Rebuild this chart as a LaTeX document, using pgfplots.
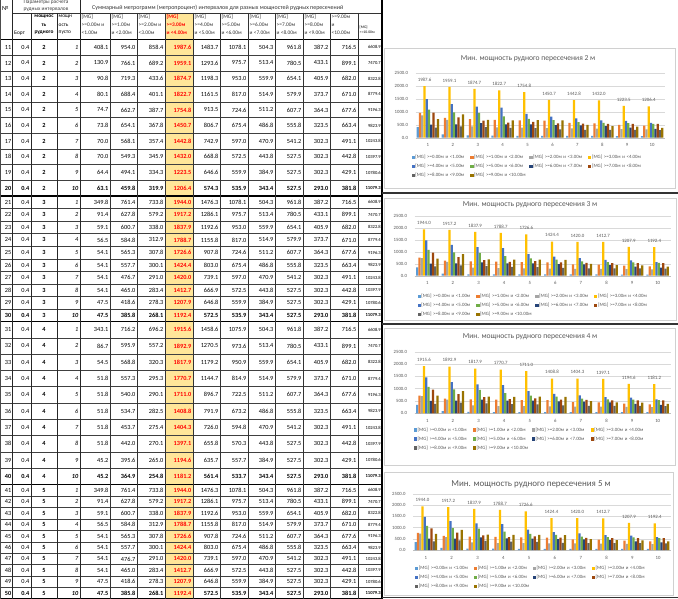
\documentclass[border=0pt]{standalone}
\usepackage{pgfplots}
\pgfplotsset{compat=1.18}
\usepackage{pgfplotstable}
\usepackage{fontspec}
\setmainfont{Carlito}

\definecolor{s0}{HTML}{5B9BD5}
\definecolor{s1}{HTML}{ED7D31}
\definecolor{s2}{HTML}{A5A5A5}
\definecolor{s3}{HTML}{FFC000}
\definecolor{s4}{HTML}{4472C4}
\definecolor{s5}{HTML}{70AD47}
\definecolor{s6}{HTML}{264478}
\definecolor{s7}{HTML}{9E480E}
\definecolor{s8}{HTML}{636363}
\definecolor{s9}{HTML}{997300}
\definecolor{hl}{HTML}{FFE699}
\definecolor{txtg}{HTML}{595959}
\definecolor{gridc}{HTML}{D9D9D9}
\definecolor{axisc}{HTML}{BFBFBF}
\definecolor{boxc}{HTML}{D0D0D0}

\pgfplotstableread{
p c0 c1 c2 c3 c4 c5 c6 c7 c8 c9 c10
1 408.1 954.0 858.4 1987.6 1483.7 1078.1 504.3 961.8 387.2 716.5 6608.9
2 130.9 766.1 689.2 1959.1 1293.6 975.7 513.4 780.5 433.1 899.1 7470.7
3 90.8 719.3 433.6 1874.7 1198.3 953.0 559.9 654.1 405.9 682.0 8322.8
4 80.1 688.4 401.1 1822.7 1161.5 817.0 514.9 579.9 373.7 671.0 8779.4
5 74.7 662.7 387.7 1754.8 913.5 724.6 511.2 607.7 364.3 677.6 9196.3
6 73.8 654.1 367.8 1450.7 806.7 675.4 486.8 555.8 323.5 663.4 9823.9
7 70.0 568.1 357.4 1442.8 742.9 597.0 470.9 541.2 302.3 491.1 10243.8
8 70.0 549.3 345.9 1432.0 668.8 572.5 443.8 527.5 302.3 442.8 10397.9
9 64.4 494.1 334.3 1223.5 646.6 559.9 384.9 527.5 302.3 429.1 10780.6
10 63.1 459.8 319.9 1206.4 574.3 535.9 343.4 527.5 293.0 381.8 11079.3
}\Ttwo
\pgfplotstableread{
p c0 c1 c2 c3 c4 c5 c6 c7 c8 c9 c10
1 349.8 761.4 733.8 1944.0 1476.3 1078.1 504.3 961.8 387.2 716.5 6608.9
2 91.4 627.8 579.2 1917.2 1286.1 975.7 513.4 780.5 433.1 899.1 7470.7
3 59.1 600.7 338.0 1837.9 1192.6 953.0 559.9 654.1 405.9 682.0 8322.8
4 56.5 584.8 312.9 1788.7 1155.8 817.0 514.9 579.9 373.7 671.0 8779.4
5 54.1 565.3 307.8 1726.6 907.8 724.6 511.2 607.7 364.3 677.6 9196.3
6 54.1 557.7 300.1 1424.4 803.0 675.4 486.8 555.8 323.5 663.4 9823.9
7 54.1 476.7 291.0 1420.0 739.1 597.0 470.9 541.2 302.3 491.1 10243.8
8 54.1 465.0 283.4 1412.7 666.9 572.5 443.8 527.5 302.3 442.8 10397.9
9 47.5 418.6 278.3 1207.9 646.8 559.9 384.9 527.5 302.3 429.1 10780.6
10 47.5 385.8 268.1 1192.4 572.5 535.9 343.4 527.5 293.0 381.8 11079.3
}\Tthree
\pgfplotstableread{
p c0 c1 c2 c3 c4 c5 c6 c7 c8 c9 c10
1 343.1 716.2 696.2 1915.6 1458.6 1075.9 504.3 961.8 387.2 716.5 6608.9
2 86.7 595.9 557.2 1892.9 1270.5 973.6 513.4 780.5 433.1 899.1 7470.7
3 54.5 568.8 320.3 1817.9 1179.2 950.9 559.9 654.1 405.9 682.0 8322.8
4 51.8 557.3 295.3 1770.7 1144.7 814.9 514.9 579.9 373.7 671.0 8779.4
5 51.8 540.0 290.1 1711.0 896.7 722.5 511.2 607.7 364.3 677.6 9196.3
6 51.8 534.7 282.5 1408.8 791.9 673.2 486.8 555.8 323.5 663.4 9823.9
7 51.8 453.7 275.4 1404.3 726.0 594.8 470.9 541.2 302.3 491.1 10243.8
8 51.8 442.0 270.1 1397.1 655.8 570.3 443.8 527.5 302.3 442.8 10397.9
9 45.2 395.6 265.0 1194.6 635.7 557.7 384.9 527.5 302.3 429.1 10780.6
10 45.2 364.9 254.8 1181.2 561.4 533.7 343.4 527.5 293.0 381.8 11079.3
}\Tfour
\pgfplotstableread{
p c0 c1 c2 c3 c4 c5 c6 c7 c8 c9 c10
1 349.8 761.4 733.8 1944.0 1476.3 1078.1 504.3 961.8 387.2 716.5 6608.9
2 91.4 627.8 579.2 1917.2 1286.1 975.7 513.4 780.5 433.1 899.1 7470.7
3 59.1 600.7 338.0 1837.9 1192.6 953.0 559.9 654.1 405.9 682.0 8322.8
4 56.5 584.8 312.9 1788.7 1155.8 817.0 514.9 579.9 373.7 671.0 8779.4
5 54.1 565.3 307.8 1726.6 907.8 724.6 511.2 607.7 364.3 677.6 9196.3
6 54.1 557.7 300.1 1424.4 803.0 675.4 486.8 555.8 323.5 663.4 9823.9
7 54.1 476.7 291.0 1420.0 739.1 597.0 470.9 541.2 302.3 491.1 10243.8
8 54.1 465.0 283.4 1412.7 666.9 572.5 443.8 527.5 302.3 442.8 10397.9
9 47.5 418.6 278.3 1207.9 646.8 559.9 384.9 527.5 302.3 429.1 10780.6
10 47.5 385.8 268.1 1192.4 572.5 535.9 343.4 527.5 293.0 381.8 11079.3
}\Tfive

\newcommand\tabf{\fontsize{6.3}{7}\selectfont}
\newcommand\hdf{\fontsize{5.4}{6}\selectfont}
\newcommand\tinyf{\fontsize{4.6}{5}\selectfont}

\newcommand\drawgroup[5]{%
  \foreach \r in {0,...,9}{%
    \pgfmathsetmacro\yc{#2+(\r+0.5)*#3}%
    \pgfmathtruncatemacro\num{#4+\r}%
    \pgfmathtruncatemacro\pp{\r+1}%
    \ifnum\r=9\relax\def\rf{\bfseries}\else\def\rf{}\fi
    \ifnum\r>0\relax\draw[line width=0.5bp,black!75] (0,#2+\r*#3) -- (382,#2+\r*#3);\fi
    \node[anchor=east] at (11.5,\yc) {\rf\num};
    \node[anchor=east] at (29.5,\yc) {\rf 0.4};
    \node at (44,\yc) {\bfseries #5};
    \node[anchor=east] at (78.5,\yc) {\rf\itshape\pp};
    \foreach \c/\xr in {c0/108.5,c1/135.5,c2/163.5,c4/218.5,c5/246.5,c6/273.5,c7/301.5,c8/328.5,c9/356.5}{%
      \edef\tmp{\noexpand\pgfplotstablegetelem{\r}{\c}\noexpand\of}\tmp{#1}%
      \node[anchor=east] at (\xr,\yc) {\rf\pgfplotsretval};
    }%
    \edef\tmp{\noexpand\pgfplotstablegetelem{\r}{c3}\noexpand\of}\tmp{#1}%
    \node[anchor=east,text=red] at (191.5,\yc) {\bfseries\pgfplotsretval};
    \edef\tmp{\noexpand\pgfplotstablegetelem{\r}{c10}\noexpand\of}\tmp{#1}%
    \node[anchor=east,font=\tinyf] at (381,\yc) {\rf\pgfplotsretval};
  }%
}

\pgfkeys{/pgf/number format/assume math mode=true}
\pgfplotsset{
  mychart/.style={
    scale only axis, ybar=0pt, bar width=2.25bp,
    ymin=0, ymax=2500, ytick={0,500,...,2500},
    xmin=0.5, xmax=10.5, xtick={1,...,10},
    axis x line*=bottom, axis y line*=left,
    x axis line style={draw=axisc,-}, y axis line style={draw=none},
    ymajorgrids, grid style={draw=gridc, line width=0.4bp},
    major tick length=0pt,
    tick label style={font=\fontsize{4.8}{5}\selectfont, text=txtg},
    yticklabel style={/pgf/number format/fixed, /pgf/number format/fixed zerofill, /pgf/number format/precision=1, /pgf/number format/1000 sep={}, /pgf/number format/assume math mode=true, xshift=-4bp},
    xticklabel style={/pgf/number format/assume math mode=true, yshift=-2.5bp},
    legend columns=4,
    legend image code/.code={\fill[##1] (0bp,-1.6bp) rectangle (3.2bp,1.6bp);},
    legend style={draw=none, fill=none, font=\fontsize{4.9}{5}\selectfont, text=txtg,
      anchor=north, legend cell align=left,
      /tikz/every even column/.append style={column sep=2.5bp},
      nodes={inner sep=0.6bp, text width=52bp, text height=3.4bp, text depth=1bp},
      /tikz/row sep=3.4bp},
    clip=false,
  }
}

\newcommand\chartplots[1]{%
  \addplot[fill=s0,draw=none] table[x=p,y=c0]{#1}; \addlegendentry{{[MG] >=0.00м и <1.00м}}
  \addplot[fill=s1,draw=none] table[x=p,y=c1]{#1}; \addlegendentry{{[MG] >=1.00м и <2.00м}}
  \addplot[fill=s2,draw=none] table[x=p,y=c2]{#1}; \addlegendentry{{[MG] >=2.00м и <3.00м}}
  \addplot[fill=s3,draw=none,nodes near coords={\pgfmathprintnumber[fixed,fixed zerofill,precision=1,1000 sep={},assume math mode=true]{\pgfplotspointmeta}},
    every node near coord/.append style={font=\fontsize{4.9}{5}\selectfont, text=txtg, inner sep=0pt, yshift=4.5bp}] table[x=p,y=c3]{#1}; \addlegendentry{{[MG] >=3.00м и <4.00м}}
  \addplot[fill=s4,draw=none] table[x=p,y=c4]{#1}; \addlegendentry{{[MG] >=4.00м и <5.00м}}
  \addplot[fill=s5,draw=none] table[x=p,y=c5]{#1}; \addlegendentry{{[MG] >=5.00м и <6.00м}}
  \addplot[fill=s6,draw=none] table[x=p,y=c6]{#1}; \addlegendentry{{[MG] >=6.00м и <7.00м}}
  \addplot[fill=s7,draw=none] table[x=p,y=c7]{#1}; \addlegendentry{{[MG] >=7.00м и <8.00м}}
  \addplot[fill=s8,draw=none] table[x=p,y=c8]{#1}; \addlegendentry{{[MG] >=8.00м и <9.00м}}
  \addplot[fill=s9,draw=none] table[x=p,y=c9]{#1}; \addlegendentry{{[MG] >=9.00м и <10.00м}}
}

\begin{document}
\begin{tikzpicture}
\begin{scope}[x=1bp,y=-1bp,every node/.style={inner sep=0pt,font=\tabf}]
\path[use as bounding box, fill=white] (0,0) rectangle (678,599);
\fill[hl] (165,13) rectangle (193,599);
% header
\node[anchor=west] at (2,8) {№};
\node[text=black!75,font=\hdf] at (46,2.5) {Параметры расчета};
\node[text=black!75,font=\hdf] at (46,9.5) {рудных интервалов};
\node[anchor=west,font=\fontsize{6}{6}\selectfont,text=black!80] at (92,8) {Суммарный метрограмм (метропроцент) интервалов для разных мощностей рудных пересечений};
\node[anchor=west,font=\hdf] at (14,33) {Борт};
\node[font=\hdf\bfseries] at (44,17) {мощнос};
\node[font=\hdf\bfseries] at (44,25) {ть};
\node[font=\hdf\bfseries] at (44,33) {рудного};
\node[anchor=west,font=\hdf] at (58.5,17) {мощн};
\node[anchor=west,font=\hdf] at (58.5,25) {ость};
\node[anchor=west,font=\hdf] at (58.5,33) {пусто};
\foreach \xl/\la/\lb/\lc in {81.5/[MG]/>=0.00м и/<1.00м, 111.5/[MG]/>=1.00м/и <2.00м, 138.5/[MG]/>=2.00м и/<3.00м,
  194.5/[MG]/>=4.00м/и <5.00м, 221.5/[MG]/>=5.00м/и <6.00м, 249.5/[MG]/>=6.00м/и <7.00м,
  276.5/[MG]/>=7.00м/и <8.00м, 304.5/[MG]/>=8.00м/и <9.00м, 331.5/>=9.00м/и/<10.00м}{
  \node[anchor=west,font=\hdf,text=black!80] at (\xl,17) {\la};
  \node[anchor=west,font=\hdf,text=black!80] at (\xl,25) {\lb};
  \node[anchor=west,font=\hdf,text=black!80] at (\xl,33) {\lc};
}
\node[anchor=west,font=\hdf\bfseries,text=red] at (166.5,17) {[MG]};
\node[anchor=west,font=\hdf\bfseries,text=red] at (166.5,25) {>=3.00м};
\node[anchor=west,font=\hdf\bfseries,text=red] at (166.5,33) {и <4.00м};
\node[anchor=west,font=\fontsize{3.8}{4}\selectfont] at (359.5,27) {[MG]};
\node[anchor=west,font=\fontsize{3.8}{4}\selectfont] at (359.5,32.5) {>=10.00м};
% data
\drawgroup{\Ttwo}{39.5}{15.65}{11}{2}
\drawgroup{\Tthree}{196}{12.55}{21}{3}
\drawgroup{\Tfour}{321.5}{16.3}{31}{4}
\drawgroup{\Tfive}{484.5}{11.45}{41}{5}
% lines
\draw[line width=0.6bp,black!80] (12,13) -- (382,13);
\draw[line width=0.8bp,black] (0,39.5) -- (382,39.5);
\foreach \yy in {196,321.5,484.5} \draw[line width=1.6bp,black] (0,\yy) -- (382,\yy);
\draw[line width=1.2bp,black] (0,598.5) -- (382,598.5);
\foreach \xx in {12,80} \draw[line width=0.8bp,black!85] (\xx,0) -- (\xx,599);
\foreach \xx in {31,57} \draw[line width=1bp,black!85] (\xx,13) -- (\xx,599);
\foreach \xx in {110,137,165,193,220,248,275,303,330,358} \draw[line width=0.7bp,black!80] (\xx,13) -- (\xx,599);
\draw[line width=1.2bp,black] (382,0) -- (382,599);
\draw[line width=0.6bp,black!70] (0.3,0) -- (0.3,599);
% chart boxes
\draw[boxc,line width=0.6bp] (384,48) rectangle (675,188);
\draw[boxc,line width=0.6bp] (384,198) rectangle (676,320);
\draw[boxc,line width=0.6bp] (384,328) rectangle (675,465);
\draw[boxc,line width=0.6bp] (384,472) rectangle (673,595);
\draw[line width=1.4bp,black!80] (382,193) -- (678,193);
\draw[line width=1.4bp,black!80] (382,324) -- (678,324);
\draw[line width=1.4bp,black!80] (382,597.5) -- (678,597.5);
\end{scope}

\node[font=\fontsize{7.6}{8}\selectfont,text=txtg] at (528bp,-59bp) {Мин. мощность рудного пересечения 2 м};
\node[font=\fontsize{7.6}{8}\selectfont,text=txtg] at (530bp,-205bp) {Мин. мощность рудного пересечения 3 м};
\node[font=\fontsize{7.6}{8}\selectfont,text=txtg] at (530bp,-337bp) {Мин. мощность рудного пересечения 4 м};
\node[font=\fontsize{9}{10}\selectfont,text=txtg] at (531bp,-484bp) {Мин. мощность рудного пересечения 5 м};

\begin{axis}[mychart, at={(415.5bp,-137.7bp)}, anchor=south west, width=249bp, height=65bp,
  legend style={at={(0.452,-0.223)}}]
\chartplots{\Ttwo}
\end{axis}
\begin{axis}[mychart, at={(414.5bp,-275.7bp)}, anchor=south west, width=256bp, height=59.7bp,
  legend style={at={(0.467,-0.265)}}]
\chartplots{\Tthree}
\end{axis}
\begin{axis}[mychart, at={(414.5bp,-413.3bp)}, anchor=south west, width=256bp, height=61.6bp,
  legend style={at={(0.453,-0.19)}}]
\chartplots{\Tfour}
\end{axis}
\begin{axis}[mychart, at={(413bp,-550bp)}, anchor=south west, width=258bp, height=56bp,
  legend style={at={(0.46,-0.24)}}]
\chartplots{\Tfive}
\end{axis}
\end{tikzpicture}
\end{document}
